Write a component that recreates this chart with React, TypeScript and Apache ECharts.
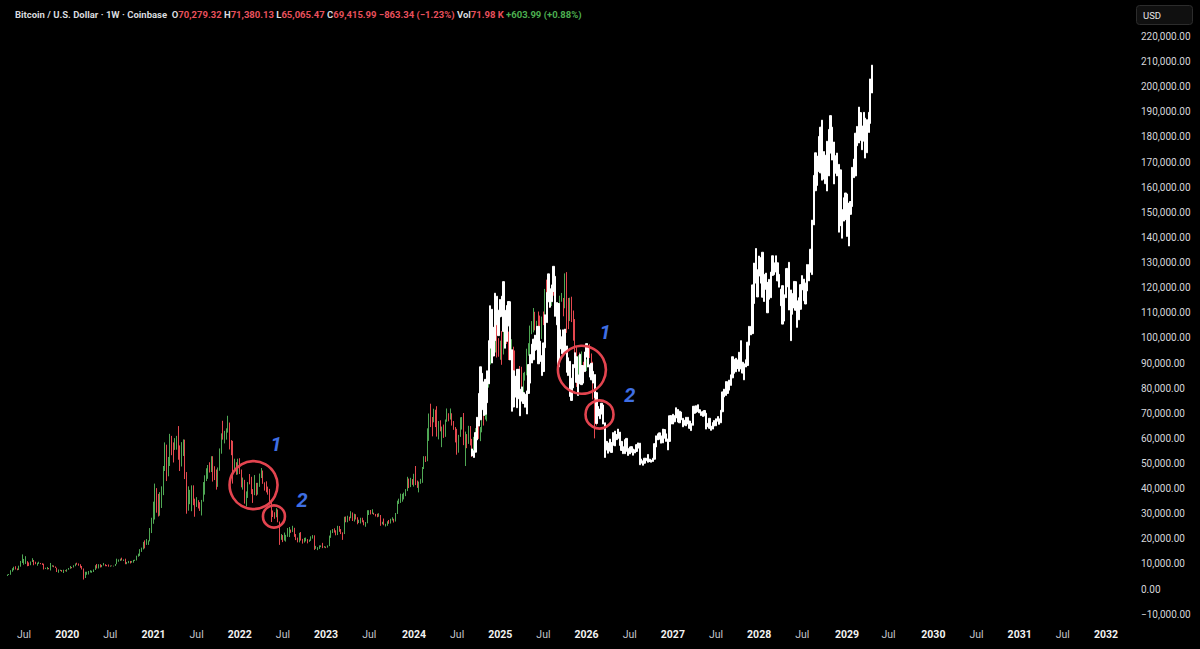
import React, { useEffect, useRef } from 'react';
import * as echarts from 'echarts';

// ---------- axis scaffolding ----------
const START_MONDAY = '2019-03-25';
const WEEK_COUNT = 681;

const tickDates = ['2019-07-01','2020-01-01','2020-07-01','2021-01-01','2021-07-01','2022-01-01','2022-07-01','2023-01-01','2023-07-01','2024-01-01','2024-07-01','2025-01-01','2025-07-01','2026-01-01','2026-07-01','2027-01-01','2027-07-01','2028-01-01','2028-07-01','2029-01-01','2029-07-01','2030-01-01','2030-07-01','2031-01-01','2031-07-01','2032-01-01'];
const tickLabels = ['Jul','2020','Jul','2021','Jul','2022','Jul','2023','Jul','2024','Jul','2025','Jul','2026','Jul','2027','Jul','2028','Jul','2029','Jul','2030','Jul','2031','Jul','2032'];

const Y_MIN = -10000;
const Y_MAX = 220000;
const Y_STEP = 10000;

// ---------- real weekly BTC candles (thousand USD), first week 2019-04-22 ----------
const REAL_START_WEEK = '2019-04-22';
const realFirstOpen = 5.3;
const realClose = [
  5.7,5.8,7.0,8.0,8.7,8.0,7.6,8.9,10.8,11.0,11.3,11.3,10.6,9.5,10.8,11.5,10.3,10.2,10.4,10.4,10.3,10.0,8.0,8.2,8.3,8.2,9.2,9.3,8.8,8.5,7.1,7.4,7.5,7.1,7.5,7.3,7.8,
  8.2,8.7,8.6,9.3,10.1,9.9,9.7,8.5,7.9,5.4,5.8,5.9,6.8,6.9,7.1,7.7,8.9,8.7,9.7,8.7,9.4,9.7,9.4,9.3,9.0,9.3,9.2,9.2,10.0,11.1,11.7,11.8,11.7,11.7,10.3,10.7,11.1,10.7,11.1,11.4,11.5,13.1,13.8,15.5,16.0,18.4,17.7,19.1,19.2,23.9,26.3,33.0,
  38.2,36.0,32.3,34.3,39.3,47.2,57.4,45.2,51.2,59.0,57.5,55.8,58.2,60.0,56.2,49.0,56.6,58.2,46.4,34.7,35.7,35.8,39.0,35.6,34.7,35.3,34.2,31.8,35.4,39.9,44.6,47.1,49.3,48.9,51.8,48.3,47.3,42.9,48.2,54.9,61.5,60.9,61.3,63.3,65.5,59.0,57.3,49.4,50.1,46.7,50.8,47.3,
  41.9,43.1,36.3,37.9,42.4,42.2,38.4,37.7,38.8,37.8,41.3,44.5,46.4,42.2,40.4,39.4,38.5,34.3,31.3,29.4,29.0,29.9,26.6,20.5,21.0,19.3,20.8,20.8,22.6,23.3,23.2,24.3,21.5,20.0,19.8,21.8,19.4,18.8,19.3,19.4,19.2,19.5,20.6,21.3,16.3,16.3,16.5,17.1,17.1,16.8,16.8,16.6,
  17.1,20.9,22.7,23.6,23.3,21.8,24.6,23.5,22.4,22.1,28.0,27.9,28.5,28.3,30.3,27.6,29.3,28.4,26.8,27.1,28.1,27.2,25.9,26.3,30.5,30.6,30.3,30.3,29.9,29.3,29.1,29.3,26.1,26.1,25.8,25.8,26.5,26.3,27.9,27.9,26.9,30.0,34.5,35.0,37.1,37.4,37.4,39.5,43.8,41.4,43.0,42.3,
  43.9,41.7,41.6,42.0,42.6,48.3,52.1,51.7,63.1,68.9,68.4,67.2,69.7,69.4,63.4,64.9,63.1,63.9,60.8,67.0,68.5,67.8,69.6,66.6,64.2,62.7,55.9,60.8,68.2,68.2,58.1,58.7,58.4,64.2,57.3,54.8,59.1,63.6,65.6,62.8,62.9,69.0,68.4,68.8,80.4,90.6,98.0,96.4,101.0,106.0,95.2,93.7,98.3,
  94.5,101.1,102.6,97.7,96.5,96.1,96.3,94.3,80.7,82.6,86.1,82.3,78.4,83.7,85.1,93.7,94.3,104.2,106.4,109.0,104.6,105.7,105.5,100.9,108.3,108.2,119.1,117.3,119.4,114.2,119.3,117.4,113.5,108.2,111.1,115.3,115.3,112.2,123.5,115.0,108.6,114.5,110.0,104.7,94.5,86.8,90.4,88.0,88.5,88.0,87.5,91.0,
  94.5,93.5,88.5,78.5,70.3,69.4
];
const realHigh = [
  5.8,6.0,7.5,8.3,8.9,9.1,8.2,9.3,11.2,13.8,12.0,13.1,11.1,10.6,11.0,12.3,11.6,10.9,10.5,10.9,10.4,10.3,10.1,8.5,8.8,8.4,10.4,9.5,9.4,9.0,8.5,7.8,7.7,7.6,7.7,7.5,7.9,
  8.4,9.2,8.8,9.5,10.2,10.5,10.2,9.9,9.2,8.2,6.9,6.9,7.2,7.5,7.3,7.8,9.5,10.0,9.9,9.9,9.6,10.4,9.9,9.6,9.8,9.4,9.4,9.3,10.0,12.1,11.8,12.1,12.5,11.8,12.1,10.8,11.2,11.2,11.2,11.6,11.7,13.3,14.1,15.9,16.5,18.8,19.4,19.9,19.4,24.3,28.4,34.8,
  42.0,40.2,37.9,38.6,40.9,49.0,58.4,57.5,52.6,61.8,61.0,58.4,60.1,61.0,64.9,57.2,58.5,59.6,59.5,46.6,40.9,39.5,41.3,41.3,36.0,36.6,35.4,34.6,35.5,42.6,45.3,48.1,49.4,50.5,52.9,52.9,48.9,47.6,48.4,56.0,62.0,67.0,63.0,64.0,69.0,66.3,59.3,59.0,51.9,50.5,51.9,52.1,
  47.6,44.4,43.5,38.9,42.6,45.8,44.7,39.8,45.4,42.3,42.3,46.0,48.2,47.2,42.5,42.9,40.8,39.9,35.0,31.3,30.6,32.2,31.7,26.9,21.9,21.5,22.5,21.6,24.3,24.7,23.7,25.2,24.4,21.9,20.5,22.4,22.7,20.0,20.4,20.5,19.9,19.7,21.0,21.5,21.4,17.2,16.7,17.4,17.4,18.4,17.1,16.9,
  17.4,21.3,23.4,23.9,24.2,23.4,25.2,25.1,23.9,22.6,28.8,28.9,29.2,28.8,31.0,30.5,30.0,29.8,28.6,27.6,28.4,28.4,27.4,26.7,31.4,31.4,31.5,31.8,30.4,29.9,30.0,30.2,29.5,26.8,28.1,26.0,27.0,27.5,28.0,28.6,28.0,30.3,35.2,36.0,38.0,37.9,38.4,39.8,44.7,44.0,44.3,43.8,
  45.9,49.0,43.2,42.8,43.9,48.6,52.9,52.9,64.0,69.9,73.8,68.5,71.8,71.4,72.8,66.9,67.2,64.7,65.5,67.5,71.9,70.0,71.9,70.0,66.9,64.5,63.8,61.4,68.4,68.5,70.1,62.7,61.7,65.0,64.9,59.8,60.6,64.1,66.5,65.6,64.5,69.5,69.5,73.6,81.5,93.5,99.6,98.7,104.0,106.5,108.4,99.9,98.9,
  102.7,105.9,109.6,106.5,102.5,98.8,99.5,96.5,95.0,84.3,87.5,88.8,88.5,86.1,86.5,95.7,97.9,104.9,106.7,111.9,110.4,106.8,110.5,108.9,108.5,110.5,119.5,123.2,120.2,119.9,119.4,124.5,117.6,113.5,113.4,116.8,117.9,115.9,125.7,126.2,115.9,116.0,116.4,110.9,107.5,96.6,93.1,94.2,94.6,90.5,90.3,91.5,
  97.9,97.5,93.8,90.5,79.5,71.4
];
const realLow = [
  5.2,5.6,5.7,6.9,7.5,7.8,7.5,7.6,8.9,10.4,9.7,10.0,9.1,9.2,9.5,10.8,9.5,9.9,9.3,10.0,9.9,9.6,7.8,8.0,7.8,7.9,7.4,8.9,8.7,8.4,6.8,6.5,7.2,6.9,6.4,7.1,6.9,
  7.7,8.1,8.3,8.6,9.1,9.7,9.3,8.5,7.8,3.8,4.4,5.7,5.8,6.6,6.5,6.8,7.6,8.2,8.2,8.6,8.7,9.4,9.1,9.1,8.9,8.9,9.1,9.0,9.2,9.9,10.9,11.2,11.4,11.2,9.9,9.9,10.3,10.2,10.5,10.5,11.2,11.4,12.9,13.2,14.8,15.8,16.2,17.6,17.6,19.0,22.3,26.0,
  27.7,30.4,28.9,29.2,32.3,37.4,47.0,43.0,44.9,49.0,53.3,50.4,55.4,55.5,51.5,47.0,48.8,53.0,43.8,30.0,31.2,33.8,31.0,33.4,28.8,32.7,32.1,31.1,29.3,34.8,37.6,43.0,43.9,46.4,46.6,42.8,43.4,39.6,40.7,47.1,53.9,59.5,58.0,59.5,62.3,55.6,53.3,42.0,46.8,45.5,45.6,45.8,
  40.5,39.6,34.0,32.9,36.3,41.7,37.8,34.3,37.4,37.2,37.6,40.7,44.2,41.9,39.2,38.5,37.6,33.7,26.7,28.7,28.0,28.6,26.6,17.6,19.6,18.7,19.3,18.9,20.8,20.7,22.4,22.7,20.8,19.5,18.6,18.6,19.3,18.1,18.5,19.0,18.2,18.8,19.2,20.1,15.6,16.0,15.5,16.0,16.7,16.3,16.5,16.3,
  16.5,17.1,20.4,22.3,22.5,21.4,21.5,22.8,21.9,19.6,21.9,26.6,26.6,27.2,28.2,27.1,26.9,27.7,25.8,26.3,26.1,26.6,25.4,24.8,26.2,29.5,29.7,29.9,29.6,28.9,28.6,28.8,25.2,25.8,25.4,24.9,25.2,26.0,26.1,27.3,26.5,26.9,29.9,33.9,34.3,34.8,35.7,37.0,39.0,40.2,40.6,41.5,
  40.8,41.4,40.3,38.5,41.9,42.3,47.8,50.6,50.9,59.0,64.5,60.8,66.4,64.5,60.7,59.6,62.8,56.5,60.2,60.6,66.6,66.8,67.5,65.1,63.4,58.4,53.5,54.3,60.6,63.5,57.3,49.0,56.1,57.8,57.2,52.6,54.6,57.5,62.7,59.8,58.9,62.4,65.1,67.5,66.8,80.2,89.4,90.8,94.5,94.2,92.2,92.5,91.3,
  89.3,93.4,99.5,97.6,91.2,94.1,93.4,78.2,80.0,76.6,81.2,81.6,77.1,74.5,83.0,85.1,92.9,93.4,101.5,102.2,103.0,100.4,102.7,98.2,99.6,105.1,107.5,115.7,114.7,112.0,112.7,116.8,110.6,107.3,107.3,110.4,114.4,108.6,111.8,102.0,103.5,106.7,106.3,98.9,93.0,80.5,85.3,83.9,87.6,84.4,86.4,86.8,
  90.5,92.0,87.3,75.5,60.0,65.1
];

// ---------- white projected pattern: weekly low / high (thousand USD), first week 2024-09-02 ----------
const PATTERN_START_WEEK = '2024-09-02';
const patternLow = [
  53.0,52.4,54.5,59.4,64.9,67.4,71.4,69.1,69.6,74.2,81.7,95.9,90.0,92.8,98.9,105.2,100.9,108.3,108.5,102.6,95.9,98.6,104.8,91.2,70.8,72.5,76.4,72.2,75.8,69.0,74.8,73.9,72.4,69.7,77.9,82.0,90.0,91.3,95.0,95.3,89.7,90.6,85.0,86.6,96.1,106.1,114.4,112.2,114.4,118.5,108.6,105.2,88.5,95.6,93.7,93.8,94.1,
  86.3,85.0,76.7,75.1,80.1,88.1,82.3,77.1,81.7,81.4,82.0,86.6,92.4,88.4,84.4,83.3,82.0,76.2,65.9,68.9,67.8,69.7,65.7,52.4,55.4,54.1,54.9,54.4,57.2,57.0,59.5,60.0,57.2,55.2,53.9,53.9,54.9,53.2,53.8,54.5,53.3,54.2,54.8,56.1,49.5,50.1,49.3,50.1,51.1,50.5,50.8,50.5,
  50.8,51.7,56.6,59.4,59.7,58.1,58.2,60.1,58.8,55.4,58.8,65.7,65.7,66.6,68.1,66.5,66.2,67.4,64.6,65.3,65.0,65.7,64.0,63.1,65.2,70.0,70.3,70.6,70.2,69.1,68.7,69.0,63.7,64.6,64.0,63.2,63.7,64.9,65.0,66.8,65.6,66.2,70.6,76.5,77.1,77.9,79.2,81.1,84.1,85.9,86.5,87.8,
  86.7,87.6,86.0,83.3,88.4,89.0,97.1,101.2,101.7,113.7,121.8,116.3,124.6,121.8,116.2,114.5,119.3,110.0,115.4,116.0,124.9,125.2,126.2,122.7,120.2,112.8,105.5,106.7,116.0,120.3,111.1,98.9,109.4,111.9,111.0,104.2,107.2,111.4,119.1,114.8,113.5,118.7,122.7,126.2,125.2,145.0,158.6,160.7,166.2,165.7,162.8,163.2,161.4,
  158.5,164.5,173.6,170.8,161.3,165.6,164.5,142.1,144.7,139.7,146.5,147.1,140.4,136.6,149.2,152.3,163.8,164.5,176.5,177.6,178.7,174.9,178.3,171.6,173.7,181.8,185.4,197.5
];
const patternHigh = [
  55.8,55.1,62.3,68.4,77.9,88.5,85.9,82.5,83.5,86.9,98.9,112.8,111.4,104.2,117.8,116.6,111.0,115.3,116.6,122.4,111.0,112.9,114.5,114.4,95.3,86.9,84.8,87.5,87.5,79.6,80.5,78.2,77.6,78.9,89.4,93.4,97.5,99.5,101.1,104.6,104.6,98.7,93.0,98.0,109.2,118.1,125.5,119.6,121.1,128.5,124.5,114.1,113.7,103.2,100.5,103.2,103.5,
  96.8,92.1,90.7,83.9,89.4,94.1,92.5,85.3,93.5,89.0,89.0,94.4,97.7,96.2,89.3,89.9,86.7,85.4,78.2,72.7,71.7,74.0,73.3,66.2,58.8,58.2,59.7,58.3,62.3,62.9,61.5,63.7,62.5,58.8,56.7,59.5,60.0,56.0,56.6,56.7,55.8,55.5,57.5,58.2,58.1,51.8,51.1,52.1,52.1,53.6,51.7,51.4,
  52.1,57.9,61.0,61.8,62.2,61.0,63.7,63.5,61.8,59.8,69.0,69.1,69.6,69.0,72.2,71.5,70.8,70.5,68.0,67.2,68.4,68.4,66.9,65.9,72.8,72.8,73.0,73.4,71.4,70.6,70.8,71.1,70.0,66.0,68.0,64.9,66.3,67.1,67.8,68.7,67.8,71.2,78.5,79.6,82.6,82.5,83.2,85.3,92.5,91.5,91.9,91.2,
  94.3,98.9,90.3,89.7,91.3,98.3,104.6,104.6,121.1,129.8,135.6,127.1,132.6,132.0,134.1,125.3,125.8,122.1,123.3,126.2,132.7,129.9,132.7,129.9,125.3,119.4,120.8,117.2,127.6,127.7,130.1,119.1,117.7,122.5,122.4,114.8,116.0,121.2,124.8,123.4,121.8,129.2,129.2,135.3,146.9,164.7,173.7,172.4,180.2,183.9,186.7,174.2,172.7,
  178.3,183.0,188.5,183.9,178.0,172.5,173.6,169.1,166.9,151.1,155.8,157.7,157.3,153.7,154.3,167.9,171.2,181.5,184.2,191.9,189.7,184.4,189.8,187.5,186.9,189.8,203.1,208.6
];

// ---------- annotations (week index in fractional weeks from START_MONDAY, price USD) ----------
const circleWeeks = [152.3, 164.6, 350.2, 360.8];
const circlePrices = [41400, 28900, 87300, 69500];
const circleRadii = [24, 11, 24, 14];
const labelWeeks = [165.8, 181.5, 364.1, 379.1];
const labelPrices = [57800, 35400, 102400, 77300];
const labelTexts = ['1', '2', '1', '2'];

const FONT = 'Roboto, "Noto Sans", sans-serif';
const UP = '#4fa754';
const DOWN = '#e5484f';

const DAY = 86400000;
const startMs = Date.parse(START_MONDAY + 'T00:00:00Z');
const weekIndex = (iso: string) => Math.floor((Date.parse(iso + 'T00:00:00Z') - startMs) / (7 * DAY));

export default function App() {
  const ref = useRef<HTMLDivElement>(null);

  useEffect(() => {
    if (!ref.current) return;
    const chart = echarts.init(ref.current, undefined, { renderer: 'svg' });

    const categories = Array.from({ length: WEEK_COUNT }, (_, i) =>
      new Date(startMs + i * 7 * DAY).toISOString().slice(0, 10)
    );
    const tickMap = new Map<number, string>();
    tickDates.forEach((d, i) => tickMap.set(weekIndex(d), tickLabels[i]));

    const realStart = weekIndex(REAL_START_WEEK);
    const realData = realClose.map((c, i) => {
      const o = i === 0 ? realFirstOpen : realClose[i - 1];
      return [realStart + i, o * 1000, c * 1000, realLow[i] * 1000, realHigh[i] * 1000];
    });
    const patStart = weekIndex(PATTERN_START_WEEK);
    const patternData = patternLow.map((lo, i) => [
      patStart + i, lo * 1000, patternHigh[i] * 1000, lo * 1000, patternHigh[i] * 1000,
    ]);

    const fmtY = (v: number) =>
      (v < 0 ? '\u2212' : '') +
      Math.abs(v).toLocaleString('en-US', { minimumFractionDigits: 2, maximumFractionDigits: 2 });

    chart.setOption({
      animation: false,
      backgroundColor: '#000000',
      title: {
        left: 10,
        top: 4,
        text:
          '{w|Bitcoin / U.S. Dollar · 1W · Coinbase}  {w|O}{r|70,279.32} {w|H}{r|71,380.13} {w|L}{r|65,065.47} {w|C}{r|69,415.99} {r|\u2212863.34 (\u22121.23%)} {w|Vol}{r|71.98 K} {g|+603.99 (+0.88%)}',
        textStyle: {
          fontFamily: FONT,
          fontSize: 9.5,
          rich: {
            w: { color: '#d9dadf', fontFamily: FONT, fontSize: 9.5 },
            r: { color: '#e8505d', fontFamily: FONT, fontSize: 9.5 },
            g: { color: '#4caf50', fontFamily: FONT, fontSize: 9.5 },
          },
        },
      },
      grid: { left: 0, right: 70, top: 36.5, bottom: 34.8, containLabel: false },
      xAxis: {
        type: 'category',
        data: categories,
        boundaryGap: true,
        axisLine: { show: false },
        axisTick: { show: false },
        splitLine: { show: false },
        axisLabel: {
          interval: (index: number) => tickMap.has(index),
          formatter: (_v: string, index: number) => {
            const t = tickMap.get(index) || '';
            return t === 'Jul' ? '{m|Jul}' : '{y|' + t + '}';
          },
          margin: 15,
          rich: {
            m: { color: '#c3c5cc', fontSize: 10.5, fontFamily: FONT },
            y: { color: '#f2f2f2', fontSize: 10.5, fontWeight: 'bold', fontFamily: FONT },
          },
        },
      },
      yAxis: {
        type: 'value',
        position: 'right',
        min: Y_MIN,
        max: Y_MAX,
        interval: Y_STEP,
        scale: false,
        axisLine: { show: false },
        axisTick: { show: false },
        splitLine: { show: false },
        axisLabel: {
          color: '#d6d7db',
          fontSize: 10,
          fontFamily: FONT,
          align: 'left',
          margin: 11,
          formatter: fmtY,
        },
      },
      series: [
        {
          type: 'candlestick',
          name: 'BTCUSD',
          data: realData,
          encode: { x: 0, y: [1, 2, 3, 4] },
          barWidth: 0.9,
          itemStyle: { color: UP, color0: DOWN, borderColor: UP, borderColor0: DOWN, borderWidth: 1 },
          z: 2,
        },
        {
          type: 'candlestick',
          name: 'Pattern',
          data: patternData,
          encode: { x: 0, y: [1, 2, 3, 4] },
          barWidth: 1.8,
          itemStyle: { color: '#ffffff', color0: '#ffffff', borderColor: '#ffffff', borderColor0: '#ffffff', borderWidth: 1 },
          z: 3,
        },
      ],
    });

    // annotation positions through the chart's own scales
    const px = (week: number, price: number) => {
      const f = Math.floor(week);
      const a = chart.convertToPixel({ gridIndex: 0 }, [f, price]) as number[];
      const b = chart.convertToPixel({ gridIndex: 0 }, [f + 1, price]) as number[];
      return [a[0] + (b[0] - a[0]) * (week - f), a[1]];
    };

    const graphics: any[] = [
      {
        type: 'rect',
        shape: { x: 1136.5, y: 5.5, width: 56, height: 19, r: 3 },
        style: { fill: '#101010', stroke: '#2c2c2c', lineWidth: 1 },
        z: 10,
      },
      {
        type: 'text',
        x: 1143,
        y: 15,
        style: { text: 'USD', fill: '#e6e6e6', fontSize: 9.5, fontFamily: FONT, verticalAlign: 'middle', align: 'left' },
        z: 11,
      },
    ];
    circleWeeks.forEach((w, i) => {
      const [cx, cy] = px(w, circlePrices[i]);
      graphics.push({
        type: 'circle',
        shape: { cx, cy, r: circleRadii[i] },
        style: { fill: 'none', stroke: '#e3444f', lineWidth: 2.6 },
        z: 20,
      });
    });
    labelWeeks.forEach((w, i) => {
      const [x, y] = px(w, labelPrices[i]);
      graphics.push({
        type: 'text',
        x,
        y,
        style: {
          text: labelTexts[i],
          fill: '#3f6fe4',
          fontSize: 20,
          fontWeight: 'bold',
          fontStyle: 'italic',
          fontFamily: FONT,
          align: 'center',
          verticalAlign: 'middle',
        },
        z: 20,
      });
    });
    chart.setOption({ graphic: graphics });

    return () => chart.dispose();
  }, []);

  return (
    <div style={{ position: 'fixed', left: 0, top: 0, width: 1200, height: 649, background: '#000' }}>
      <div ref={ref} style={{ width: 1200, height: 649 }} />
    </div>
  );
}
